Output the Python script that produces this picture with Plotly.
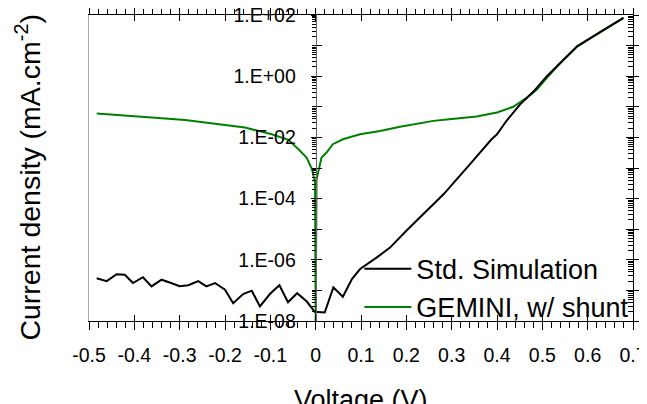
import plotly.graph_objects as go

# ---------------- data ----------------
V_std = [-0.483, -0.461, -0.439, -0.421, -0.403, -0.381, -0.362, -0.340, -0.322, -0.300,
         -0.281, -0.259, -0.241, -0.222, -0.200, -0.182, -0.160, -0.141, -0.123, -0.101,
         -0.080, -0.061, -0.041, -0.020, -0.002, 0.020, 0.039, 0.060, 0.080, 0.098,
         0.135, 0.164, 0.200, 0.240, 0.282, 0.340, 0.388, 0.400, 0.421, 0.451,
         0.481, 0.510, 0.540, 0.577, 0.613, 0.650, 0.679]
J_std = [2.51e-7, 2.0e-7, 3.39e-7, 3.24e-7, 1.74e-7, 2.69e-7, 1.35e-7, 2.24e-7, 1.82e-7, 1.38e-7,
         1.48e-7, 2.0e-7, 1.35e-7, 1.74e-7, 1.05e-7, 3.8e-8, 7.6e-8, 9.8e-8, 3.0e-8, 7.6e-8,
         1.48e-7, 4.1e-8, 8.1e-8, 4.4e-8, 2.0e-8, 1.9e-8, 1.26e-7, 6.2e-8, 2.34e-7, 5.0e-7,
         1.2e-6, 2.5e-6, 8.9e-6, 3.5e-5, 1.38e-4, 1.32e-3, 8.7e-3, 1.26e-2, 3.5e-2, 0.12,
         0.32, 1.0, 2.75, 9.5, 20.4, 42.7, 81.0]

V_gem = [-0.483, -0.430, -0.362, -0.288, -0.215, -0.156, -0.097, -0.060, -0.038, -0.020,
         -0.008, -0.0015, 0.0, 0.002, 0.013, 0.024, 0.038, 0.060, 0.098, 0.142,
         0.186, 0.230, 0.260, 0.295, 0.333, 0.355, 0.400, 0.436, 0.466, 0.488,
         0.510, 0.540, 0.577, 0.613, 0.650, 0.679]
J_gem = [0.060, 0.054, 0.045, 0.037, 0.027, 0.021, 0.0126, 0.0083, 0.0041, 0.0022,
         9.1e-4, 3.4e-4, 1.0e-8, 4.3e-4, 2.2e-3, 3.2e-3, 6.0e-3, 8.7e-3, 0.0126, 0.0162,
         0.0224, 0.0288, 0.0347, 0.039, 0.045, 0.048, 0.065, 0.10, 0.20, 0.37,
         0.89, 2.75, 9.5, 20.4, 42.7, 81.0]

x_ticks = [-0.5, -0.4, -0.3, -0.2, -0.1, 0.0, 0.1, 0.2, 0.3, 0.4, 0.5, 0.6, 0.7]
x_tick_labels = ["-0.5", "-0.4", "-0.3", "-0.2", "-0.1", "0", "0.1", "0.2", "0.3",
                 "0.4", "0.5", "0.6", "0.7"]
x_minor = [round(-0.5 + 0.02 * i, 2) for i in range(61)]

y_label_ticks = [1e-8, 1e-6, 1e-4, 1e-2, 1e0, 1e2]
y_tick_labels = ["1.E-08", "1.E-06", "1.E-04", "1.E-02", "1.E+00", "1.E+02"]
y_decades = [1e-8, 1e-7, 1e-6, 1e-5, 1e-4, 1e-3, 1e-2, 1e-1, 1e0, 1e1, 1e2]
y_minor = [k * 10.0 ** e for e in range(-8, 2) for k in range(2, 10)]

# ---------------- figure ----------------
FONT = "Liberation Sans, Arial, sans-serif"
GREEN = "#008000"

fig = go.Figure()
fig.add_trace(go.Scatter(x=V_gem, y=J_gem, mode="lines", name="GEMINI, w/ shunt",
                         line=dict(color=GREEN, width=2), legendrank=2))
fig.add_trace(go.Scatter(x=V_std, y=J_std, mode="lines", name="Std. Simulation",
                         line=dict(color="black", width=2), legendrank=1))

# empty traces only to register the extra (frame / tick) axes
for xa, ya in [("x2", "y2"), ("x3", "y3"), ("x4", "y4"), ("x", "y5")]:
    fig.add_trace(go.Scatter(x=[], y=[], xaxis=xa, yaxis=ya, showlegend=False,
                             hoverinfo="skip"))

y0pos = 0.5 / 1.2

xtickfont = dict(family=FONT, size=19.5, color="black")
ytickfont = dict(family=FONT, size=19.5, color="black")
common_x = dict(range=[-0.5, 0.7], showgrid=False, zeroline=False, tickmode="array",
                tickvals=x_ticks, tickcolor="black", tickwidth=1, automargin=False)
common_y = dict(type="log", range=[-8, 2], showgrid=False, zeroline=False,
                tickmode="array", tickcolor="black", tickwidth=1, automargin=False)

# the page body adds an 8 px offset; margins compensate so the plot
# area lands at x 89..633, y 15..321 of the 647x404 window
fig.update_layout(
    width=647, height=404,
    margin=dict(l=81, r=22, t=7, b=91),
    paper_bgcolor="white", plot_bgcolor="white",
    font=dict(family=FONT, color="black"),
    showlegend=True,
    xaxis=dict(**common_x, ticktext=x_tick_labels, ticks="outside", ticklen=8,
               showline=True, linecolor="black", linewidth=1, tickfont=xtickfont,
               anchor="y", ticklabelstandoff=9, ticklabeloverflow="allow",
               minor=dict(tickmode="array", tickvals=x_minor, ticks="outside", ticklen=6,
                          tickcolor="black", showgrid=False)),
    xaxis2=dict(**common_x, matches="x", overlaying="x", anchor="y", side="bottom",
                ticks="inside", ticklen=6, showticklabels=False, showline=False),
    xaxis3=dict(**common_x, matches="x", overlaying="x", anchor="y", side="top",
                ticks="outside", ticklen=6, showticklabels=False, showline=True,
                linecolor="black", linewidth=1,
                minor=dict(tickmode="array", tickvals=x_minor, ticks="outside", ticklen=5,
                           tickcolor="black", showgrid=False)),
    xaxis4=dict(**common_x, matches="x", overlaying="x", anchor="y", side="top",
                ticks="inside", ticklen=6, showticklabels=False, showline=False),
    yaxis=dict(**common_y, tickvals=y_label_ticks, ticktext=y_tick_labels,
               anchor="free", position=y0pos,
               side="left", ticks="outside", ticklen=5, showline=True,
               linecolor="#666666", linewidth=1, tickfont=ytickfont,
               ticklabelstandoff=11, ticklabeloverflow="allow",
               minor=dict(tickmode="array", tickvals=y_minor + y_decades[1::2],
                          ticks="outside", ticklen=4, tickcolor="black", showgrid=False)),
    yaxis2=dict(**common_y, tickvals=y_decades, matches="y", overlaying="y",
                anchor="free", position=y0pos,
                side="left", ticks="inside", ticklen=5, showticklabels=False,
                showline=False),
    yaxis3=dict(**common_y, tickvals=y_decades, matches="y", overlaying="y", anchor="x",
                side="right", ticks="inside", ticklen=7, showticklabels=False,
                showline=True, linecolor="black", linewidth=1,
                minor=dict(tickmode="array", tickvals=y_minor, ticks="inside", ticklen=5,
                           tickcolor="black", showgrid=False)),
    yaxis4=dict(**common_y, tickvals=y_decades, matches="y", overlaying="y", anchor="x",
                side="right", ticks="outside", ticklen=7, showticklabels=False,
                showline=False),
    yaxis5=dict(**common_y, tickvals=y_decades, matches="y", overlaying="y", anchor="x",
                side="left", ticks="", showticklabels=False, showline=True,
                linecolor="#aaaaaa", linewidth=1),
    legend=dict(x=0.497, y=0.249, xanchor="left", yanchor="top",
                bgcolor="rgba(0,0,0,0)", borderwidth=0, itemwidth=47,
                font=dict(family=FONT, size=27, color="black"),
                tracegroupgap=0),
    annotations=[
        dict(text="Voltage (V)", x=0.5, y=-0.257, xref="paper", yref="paper",
             xanchor="center", yanchor="middle", showarrow=False,
             font=dict(family=FONT, size=27, color="black")),
        dict(text="Current density (mA.cm<sup>-2</sup>)", x=-0.112, y=0.469,
             xref="paper", yref="paper", xanchor="center", yanchor="middle",
             textangle=-90, showarrow=False,
             font=dict(family=FONT, size=28.5, color="black")),
    ],
)

fig.write_html("out.html")
